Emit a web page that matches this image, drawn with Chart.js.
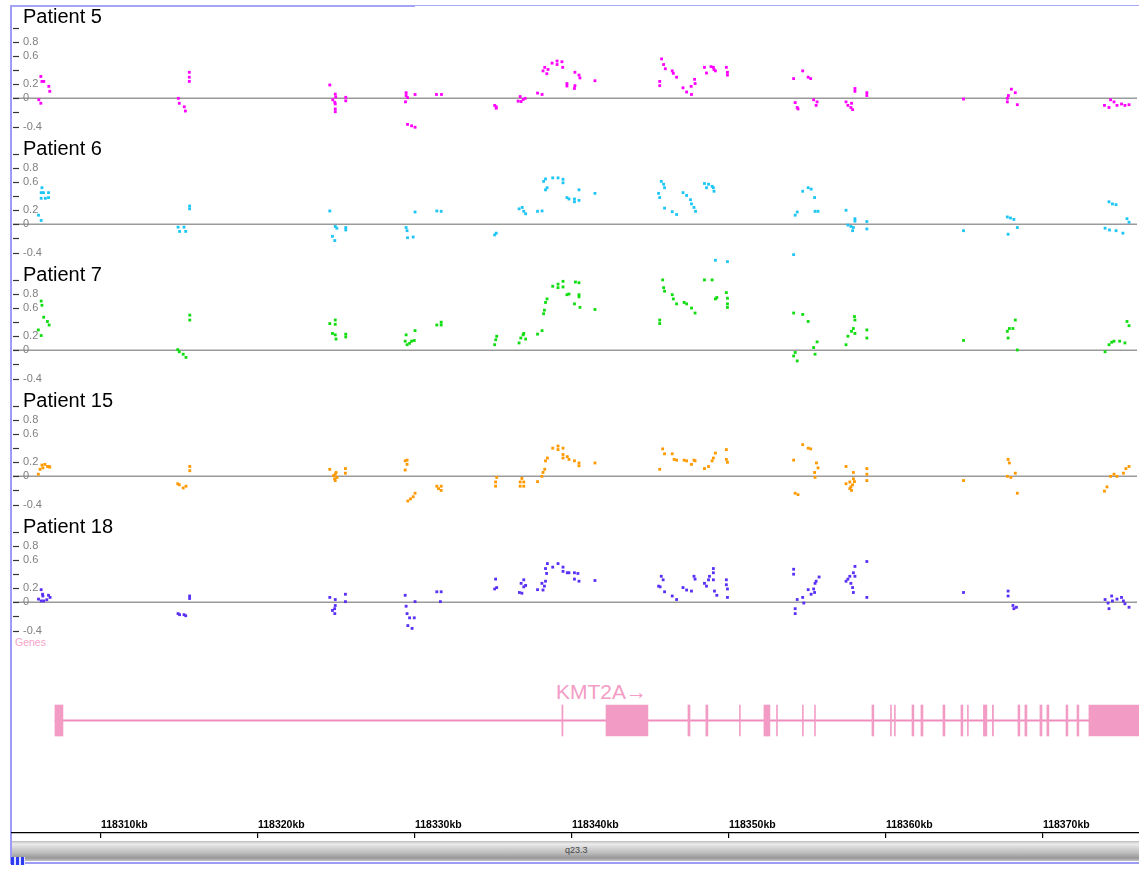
<!DOCTYPE html>
<html>
<head>
<meta charset="utf-8">
<script src="https://cdn.jsdelivr.net/npm/chart.js@4.4.1/dist/chart.umd.min.js"></script>
<style>
html, body { margin: 0; padding: 0; background: #fff; }
#stage { position: relative; width: 1139px; height: 869px; overflow: hidden; font-family: "Liberation Sans", Arial, sans-serif; }
#stage canvas { position: absolute; }
.frame { position: absolute; left: 10px; top: 5px; width: 1140px; height: 859px; border-left: 2px solid #9c9cf6; border-top: 1px solid #a8a8f8; border-bottom: 2px solid #9c9cf6; box-sizing: border-box; }
.frame-top { position: absolute; left: 10px; top: 5px; width: 405px; height: 2px; background: #a4a4f6; }
.genes-label { position: absolute; left: 15px; top: 636px; font-size: 10.5px; color: #f5a3c7; }
.gene-name { position: absolute; left: 556px; top: 681px; font-size: 21px; line-height: 1; color: #f39cc5; }
.band { position: absolute; left: 12px; top: 841px; width: 1127px; height: 20px;
  background: linear-gradient(#bdbdbd 0px, #ececec 3px, #d4d4d4 7px, #bcbcbc 12px, #979797 17px, #c4c4c4 20px); }
.band span { position: absolute; left: 553px; top: 4px; font-size: 9px; color: #444; }
.corner { position: absolute; left: 11px; top: 857px; width: 14px; height: 8px;
  background: repeating-linear-gradient(90deg, #2c3cf0 0 3px, #dfe2ff 3px 5px); }
</style>
</head>
<body>
<div id="stage">
  <div class="frame"></div>
  <div class="frame-top"></div>
  <div class="genes-label">Genes</div>
  <div class="gene-name">KMT2A→</div>
  <div class="band"><span>q23.3</span></div>
  <div class="corner"></div>
</div>
<script>
// visible window, kb on chr11
const X_MIN = 118304.27;
const X_MAX = 118376.12;

const xTickKb = [118310, 118320, 118330, 118340, 118350, 118360, 118370];
const yTickValues = [1.0, 0.8, 0.6, 0.4, 0.2, 0, -0.2, -0.4];
const yLabelValues = [0.8, 0.6, 0.2, 0, -0.4];

const patientNames = ['Patient 5', 'Patient 6', 'Patient 7', 'Patient 15', 'Patient 18'];

const p5Kb = [
  118305.92, 118306.05, 118306.05, 118306.12, 118306.24, 118306.56, 118306.62,
  118314.84, 118314.90, 118315.22, 118315.29, 118315.54, 118315.54, 118315.54,
  118324.52, 118324.87, 118324.90, 118324.71, 118324.84, 118324.87, 118324.87, 118324.87, 118325.54, 118325.54,
  118329.40, 118329.40, 118329.36, 118329.49, 118329.97, 118329.49, 118329.75, 118329.97,
  118331.34, 118331.66,
  118335.06, 118335.16, 118335.16,
  118336.56, 118336.69, 118336.75, 118336.88, 118337.01,
  118337.80, 118338.09, 118338.15, 118338.26, 118338.39, 118338.47, 118338.73, 118339.05, 118339.05, 118339.36,
  118339.41, 118339.68, 118339.68, 118340.19, 118340.19, 118340.16, 118340.45, 118340.51, 118341.47,
  118345.61, 118345.61, 118345.73, 118345.86, 118345.97, 118346.41, 118346.48, 118346.69, 118347.10, 118347.33,
  118347.62, 118347.64, 118347.84, 118347.87, 118348.47, 118348.60, 118348.89, 118349.04, 118349.08, 118349.17,
  118349.87, 118349.94, 118349.94,
  118354.17, 118354.27, 118354.40, 118354.45, 118354.75, 118355.10, 118355.26, 118355.45, 118355.67, 118355.61,
  118357.52, 118357.64, 118357.87, 118357.94, 118357.83, 118358.09, 118358.09, 118358.85, 118358.85,
  118365.03,
  118367.83, 118367.83, 118367.90, 118368.09, 118368.34, 118368.47,
  118374.04, 118374.33, 118374.43, 118374.65, 118374.84, 118375.13, 118375.35, 118375.61,
];
const p5Val = [
  -0.02, -0.07, 0.31, 0.24, 0.24, 0.17, 0.10,
  0.00, -0.07, -0.12, -0.18, 0.37, 0.30, 0.24,
  0.19, 0.06, 0.02, -0.02, -0.055, -0.08, -0.15, -0.19, 0.015, -0.035,
  0.08, 0.04, -0.05, 0.01, 0.055, -0.37, -0.39, -0.41,
  0.055, 0.055,
  -0.10, -0.14, -0.12,
  -0.04, 0.025, -0.045, -0.015, 0.00,
  0.075, 0.055, 0.39, 0.44, 0.35, 0.41, 0.50, 0.53, 0.48, 0.52,
  0.44, 0.21, 0.175, 0.37, 0.18, 0.14, 0.33, 0.29, 0.25,
  0.24, 0.18, 0.56, 0.48, 0.42, 0.39, 0.355, 0.30, 0.15, 0.09,
  0.17, 0.055, 0.27, 0.21, 0.44, 0.36, 0.45, 0.44, 0.41, 0.39,
  0.44, 0.37, 0.33,
  0.28, -0.06, -0.13, -0.15, 0.39, 0.30, 0.28, -0.02, -0.05, -0.10,
  -0.05, -0.10, -0.07, -0.16, -0.13, 0.14, 0.10, 0.08, 0.04,
  -0.01,
  0.00, -0.05, 0.04, 0.13, 0.08, -0.09,
  -0.10, -0.13, -0.02, -0.05, -0.10, -0.08, -0.10, -0.09,
];

const p6Kb = [
  118306.12, 118306.07, 118306.22, 118306.54, 118306.07, 118306.34, 118306.54, 118305.90, 118306.07,
  118314.82, 118314.92, 118315.20, 118315.31, 118315.56, 118315.56,
  118324.52, 118324.87, 118324.97, 118325.54, 118325.54, 118324.69, 118324.84,
  118329.40, 118329.46, 118329.49, 118329.85, 118329.97,
  118331.36, 118331.64,
  118335.06, 118335.16,
  118336.62, 118336.82, 118336.92, 118337.04,
  118337.80, 118338.09, 118338.19, 118338.31, 118338.31, 118338.41, 118338.77, 118339.11, 118339.43,
  118339.43, 118339.68, 118339.81, 118340.16, 118340.16, 118340.45, 118340.45, 118341.47,
  118345.71, 118345.86, 118345.92, 118345.54, 118345.61, 118345.92, 118346.41, 118346.69, 118347.10, 118347.33,
  118347.58, 118347.64, 118347.80, 118347.90, 118348.47, 118348.73, 118348.96, 118348.60, 118349.08, 118349.04,
  118349.17, 118349.94,
  118354.17, 118354.27, 118354.40, 118354.75, 118355.10, 118355.29, 118355.51, 118355.54, 118355.73,
  118357.52, 118357.64, 118357.83, 118357.94, 118357.99, 118358.09, 118358.09, 118358.85, 118358.85,
  118365.03,
  118367.83, 118368.03, 118368.25, 118367.88, 118368.47,
  118374.33, 118374.55, 118374.78, 118374.08, 118374.36, 118374.78, 118375.22, 118375.48, 118375.61,
];
const p6Val = [
  0.52, 0.45, 0.45, 0.45, 0.37, 0.37, 0.38, 0.13, 0.055,
  -0.04, -0.10, -0.04, -0.10, 0.26, 0.22,
  0.19, -0.03, -0.055, -0.045, -0.08, -0.17, -0.23,
  -0.045, -0.09, -0.19, -0.18, 0.175,
  0.19, 0.185,
  -0.15, -0.125,
  0.22, 0.24, 0.185, 0.15,
  0.185, 0.19, 0.61, 0.645, 0.49, 0.52, 0.66, 0.66, 0.64,
  0.59, 0.38, 0.36, 0.36, 0.32, 0.49, 0.34, 0.44,
  0.61, 0.57, 0.52, 0.44, 0.38, 0.23, 0.18, 0.14, 0.45, 0.41,
  0.35, 0.29, 0.24, 0.185, 0.58, 0.57, 0.54, 0.52, 0.47, 0.52,
  -0.51, -0.53,
  -0.43, 0.13, 0.175, 0.47, 0.52, 0.50, 0.38, 0.185, 0.185,
  0.20, -0.01, -0.03, -0.09, -0.045, 0.08, 0.045, 0.04, -0.065,
  -0.09,
  0.105, 0.09, 0.07, -0.14, -0.045,
  0.32, 0.29, 0.28, -0.055, -0.08, -0.09, -0.125, 0.08, 0.03,
];

const p7Kb = [
  118306.07, 118306.12, 118305.89, 118306.07, 118306.23, 118306.47, 118306.58,
  118314.80, 118314.90, 118315.15, 118315.33, 118315.57, 118315.57,
  118324.52, 118324.87, 118324.87, 118324.69, 118324.87, 118324.92, 118325.54, 118325.54,
  118329.40, 118329.34, 118329.46, 118329.62, 118329.75, 118329.92, 118329.97,
  118331.36, 118331.64, 118331.64,
  118335.06, 118335.13, 118335.19,
  118336.62, 118336.73, 118336.88, 118337.04, 118336.92,
  118337.80, 118338.09, 118338.19, 118338.24, 118338.31, 118338.41, 118338.77, 118339.11, 118339.11, 118339.43,
  118339.43, 118339.68, 118339.81, 118340.22, 118340.45, 118340.45, 118340.45, 118340.16, 118340.51, 118341.47,
  118345.80, 118345.86, 118345.92, 118345.61, 118345.61, 118346.41, 118346.48, 118346.69, 118347.17, 118347.33,
  118347.64, 118347.87, 118348.47, 118348.96, 118349.17, 118349.26, 118349.87, 118349.94, 118349.94, 118349.94,
  118354.17, 118354.75, 118355.10, 118354.27, 118354.40, 118354.17, 118355.45, 118355.54, 118355.67,
  118357.52, 118357.64, 118357.87, 118357.99, 118358.06, 118358.09, 118358.09, 118358.85, 118358.85,
  118365.03,
  118367.83, 118367.96, 118368.19, 118368.34, 118367.88, 118368.47,
  118374.08, 118374.33, 118374.50, 118374.65, 118375.01, 118375.35, 118375.48, 118375.61,
];
const p7Val = [
  0.70, 0.64, 0.29, 0.21, 0.47, 0.41, 0.36,
  0.01, -0.02, -0.055, -0.10, 0.50, 0.43,
  0.38, 0.43, 0.37, 0.24, 0.22, 0.16, 0.23, 0.19,
  0.22, 0.13, 0.08, 0.10, 0.13, 0.14, 0.28,
  0.36, 0.40, 0.36,
  0.08, 0.15, 0.20,
  0.105, 0.175, 0.22, 0.16, 0.24,
  0.23, 0.28, 0.52, 0.57, 0.68, 0.73, 0.91, 0.94, 0.89, 0.98,
  0.90, 0.79, 0.80, 0.97, 0.96, 0.79, 0.76, 0.66, 0.61, 0.58,
  1.00, 0.89, 0.84, 0.43, 0.38, 0.79, 0.73, 0.66, 0.68, 0.66,
  0.60, 0.53, 1.00, 1.00, 0.73, 0.75, 0.82, 0.74, 0.66, 0.61,
  0.53, 0.51, 0.41, -0.03, -0.15, -0.08, 0.04, -0.055, 0.12,
  0.08, 0.20, 0.27, 0.31, 0.48, 0.43, 0.24, 0.29, 0.175,
  0.14,
  0.27, 0.31, 0.31, 0.43, 0.175, 0.005,
  -0.02, 0.08, 0.115, 0.13, 0.13, 0.105, 0.41, 0.35,
];

const p15Kb = [
  118305.89, 118306.00, 118306.12, 118306.18, 118306.31, 118306.47, 118306.58, 118306.62,
  118314.80, 118314.90, 118315.15, 118315.33, 118315.57, 118315.57,
  118324.52, 118324.76, 118324.83, 118324.87, 118324.92, 118324.99, 118324.87, 118325.52, 118325.52,
  118329.34, 118329.46, 118329.46, 118329.34, 118329.51, 118329.68, 118329.85, 118329.97,
  118331.36, 118331.47, 118331.64, 118331.64,
  118335.19, 118335.12, 118335.12,
  118336.69, 118336.80, 118336.92, 118336.92, 118336.69,
  118337.80, 118338.08, 118338.15, 118338.26, 118338.31, 118338.43, 118338.77, 118339.11, 118339.11,
  118339.43, 118339.43, 118339.43, 118339.70, 118339.81, 118340.16, 118340.45, 118340.45, 118341.47,
  118345.80, 118345.92, 118345.61, 118346.41, 118346.53, 118346.69, 118347.17, 118347.33, 118347.64, 118347.80,
  118347.87, 118348.47, 118348.73, 118348.96, 118349.04, 118349.17, 118349.87, 118349.87, 118349.94,
  118354.17, 118354.27, 118354.45, 118354.75, 118355.10, 118355.26, 118355.63, 118355.73, 118355.51, 118355.54,
  118357.52, 118357.52, 118357.76, 118357.83, 118357.99, 118357.99, 118357.94, 118357.76, 118357.87, 118358.06,
  118358.85, 118358.85, 118358.85,
  118365.03,
  118367.88, 118367.96, 118367.83, 118368.06, 118368.34, 118368.47,
  118374.04, 118374.20, 118374.43, 118374.65, 118374.84, 118375.25, 118375.41, 118375.61,
];
const p15Val = [
  0.03, 0.10, 0.16, 0.12, 0.17, 0.14, 0.14, 0.13,
  -0.105, -0.12, -0.165, -0.14, 0.14, 0.08,
  0.10, 0.01, -0.035, 0.03, 0.055, -0.015, -0.06, 0.11, 0.045,
  0.22, 0.23, 0.17, 0.09, -0.35, -0.32, -0.29, -0.24,
  -0.14, -0.175, -0.14, -0.20,
  -0.015, -0.08, -0.14,
  -0.08, -0.03, -0.08, -0.14, -0.14,
  -0.075, 0.00, 0.055, 0.10, 0.22, 0.26, 0.40, 0.43, 0.38,
  0.40, 0.31, 0.26, 0.28, 0.24, 0.22, 0.19, 0.15, 0.19,
  0.39, 0.32, 0.10, 0.32, 0.24, 0.23, 0.23, 0.22, 0.17, 0.23,
  0.22, 0.11, 0.14, 0.22, 0.26, 0.33, 0.38, 0.24, 0.20,
  0.23, -0.24, -0.26, 0.45, 0.40, 0.39, 0.19, 0.12, 0.055, -0.015,
  0.14, -0.105, -0.08, -0.15, 0.055, -0.035, -0.12, -0.175, -0.20, -0.075,
  0.11, 0.03, -0.06,
  -0.06,
  0.24, 0.19, 0.00, -0.015, 0.045, -0.24,
  -0.21, -0.15, 0.00, 0.03, 0.00, 0.045, 0.11, 0.14,
];

const p18Kb = [
  118306.07, 118306.16, 118306.18, 118305.90, 118306.07, 118306.23, 118306.54, 118306.64, 118306.43,
  118314.82, 118314.92, 118315.20, 118315.31, 118315.56, 118315.56,
  118324.52, 118324.87, 118324.87, 118324.83, 118324.69, 118324.84, 118325.52, 118325.52,
  118329.34, 118329.40, 118329.46, 118329.62, 118329.92, 118329.51, 118329.78, 118329.97,
  118331.36, 118331.64, 118331.59,
  118335.06, 118335.12, 118335.19,
  118336.64, 118336.80, 118336.75, 118336.92, 118336.92, 118337.04,
  118337.80, 118338.08, 118338.15, 118338.24, 118338.31, 118338.38, 118338.31, 118338.43, 118338.77, 118339.11,
  118339.43, 118339.43, 118339.70, 118339.81, 118340.16, 118340.38, 118340.16, 118340.45, 118341.47,
  118345.71, 118345.83, 118345.54, 118345.64, 118345.92, 118346.41, 118346.69, 118347.10, 118347.33, 118347.64,
  118347.80, 118347.87, 118348.47, 118348.60, 118348.73, 118348.79, 118349.04, 118349.04, 118349.04, 118349.11,
  118349.26, 118349.87, 118349.87, 118349.94, 118349.94,
  118354.17, 118354.17, 118354.27, 118354.27, 118354.40, 118354.75, 118354.82, 118355.10, 118355.29, 118355.45,
  118355.54, 118355.61, 118355.80, 118355.51,
  118357.52, 118357.64, 118357.76, 118357.83, 118357.94, 118357.99, 118357.99, 118358.09, 118358.09, 118358.85,
  118358.85,
  118365.03,
  118367.88, 118367.88, 118368.19, 118368.25, 118368.41,
  118374.08, 118374.27, 118374.33, 118374.50, 118374.55, 118374.84, 118375.13, 118375.25, 118375.35, 118375.61,
];
const p18Val = [
  0.18, 0.115, 0.09, 0.046, 0.02, 0.02, 0.10, 0.07, 0.037,
  -0.16, -0.175, -0.175, -0.19, 0.09, 0.055,
  0.07, 0.04, -0.045, -0.09, -0.115, -0.16, 0.115, 0.01,
  0.10, -0.055, -0.16, -0.22, -0.22, -0.33, -0.37, 0.01,
  0.15, 0.15, 0.01,
  0.19, 0.33, 0.21,
  0.14, 0.13, 0.27, 0.32, 0.22, 0.24,
  0.18, 0.27, 0.175, 0.23, 0.30, 0.41, 0.48, 0.55, 0.50, 0.55,
  0.50, 0.44, 0.42, 0.42, 0.42, 0.41, 0.33, 0.30, 0.31,
  0.37, 0.32, 0.23, 0.22, 0.15, 0.09, 0.04, 0.21, 0.175, 0.16,
  0.37, 0.33, 0.27, 0.23, 0.32, 0.37, 0.48, 0.42, 0.32, 0.16,
  0.10, 0.32, 0.25, 0.19, 0.07,
  0.47, 0.40, -0.16, -0.09, 0.04, 0.07, -0.01, 0.18, 0.115, 0.19,
  0.27, 0.30, 0.36, 0.14,
  0.30, 0.33, 0.37, 0.27, 0.21, 0.14, 0.42, 0.51, 0.37, 0.58,
  0.07,
  0.14,
  0.16, 0.09, -0.045, -0.09, -0.07,
  0.04, -0.01, -0.09, 0.09, 0.02, 0.046, 0.07, 0.02, -0.02, -0.07,
];

// KMT2A exons (kb), transcript runs off the right edge
const geneSpanKb = [118307.07, 118376.50];
const exonStartKb = [
  118307.07, 118339.36, 118342.17, 118347.39, 118348.53, 118350.67, 118352.23, 118353.03, 118354.68,
  118355.45, 118359.11, 118360.29, 118360.54, 118361.66, 118362.23, 118363.63, 118364.78, 118365.19,
  118366.21, 118366.78, 118368.41, 118368.85, 118369.81, 118370.25, 118371.47, 118372.17, 118372.93,
];
const exonEndKb = [
  118307.58, 118339.43, 118344.84, 118347.52, 118348.66, 118350.73, 118352.61, 118353.09, 118354.74,
  118355.51, 118359.23, 118360.35, 118360.60, 118361.78, 118362.36, 118363.76, 118364.90, 118365.25,
  118366.43, 118366.85, 118368.53, 118368.98, 118369.94, 118370.38, 118371.59, 118372.29, 118376.50,
];

const FONT = '"Liberation Sans", Arial, sans-serif';
const GENE_PINK = '#f29bc4';

// Each data track is 126px apart; 72.5px per unit of log ratio.
const TRACK_TOP = 6;
const TRACK_STEP = 126;
const TRACK_H = 140;
const PX_PER_UNIT = 72.5;
const ZERO_OFFSET = 93;

Chart.defaults.font.family = FONT;

const stage = document.getElementById('stage');

function addCanvas(left, top, width, height) {
  const c = document.createElement('canvas');
  c.width = width;
  c.height = height;
  c.style.left = left + 'px';
  c.style.top = top + 'px';
  c.style.width = width + 'px';
  c.style.height = height + 'px';
  stage.appendChild(c);
  return c;
}

/**
 * Zero line, little y ticks and the track name. Drawn under the points,
 * IGV-style: labels sit inside the data area next to the left edge.
 */
const trackDecor = {
  id: 'trackDecor',
  beforeDatasetsDraw(chart, args, opts) {
    const { ctx, chartArea: a } = chart;
    const y = chart.scales.y;
    const y0 = y.getPixelForValue(0);
    ctx.save();

    ctx.strokeStyle = '#9a9a9a';
    ctx.lineWidth = 1.5;
    ctx.beginPath();
    ctx.moveTo(a.left, y0);
    ctx.lineTo(a.right, y0);
    ctx.stroke();

    ctx.strokeStyle = '#333';
    ctx.lineWidth = 1.2;
    yTickValues.forEach((v) => {
      const py = Math.round(y.getPixelForValue(v)) + 0.5;
      ctx.beginPath();
      ctx.moveTo(a.left, py);
      ctx.lineTo(a.left + 6, py);
      ctx.stroke();
    });

    ctx.fillStyle = '#808080';
    ctx.font = `11px ${FONT}`;
    ctx.textBaseline = 'middle';
    yLabelValues.forEach((v) => {
      const txt = v === 0 ? '0' : v.toFixed(1);
      ctx.fillText(txt, a.left + 10, y.getPixelForValue(v));
    });

    ctx.fillStyle = '#000';
    ctx.font = `20px ${FONT}`;
    ctx.textBaseline = 'alphabetic';
    ctx.fillText(opts.title, a.left + 10, y0 - 69 + (opts.titleDy || 0));
    ctx.restore();
  },
};

const tracks = [
  { kb: p5Kb, val: p5Val, color: '#ff00ff', titleDy: -6 },
  { kb: p6Kb, val: p6Val, color: '#1ec6f6', titleDy: 0 },
  { kb: p7Kb, val: p7Val, color: '#10dd10', titleDy: 0 },
  { kb: p15Kb, val: p15Val, color: '#ff9900', titleDy: 0 },
  { kb: p18Kb, val: p18Val, color: '#5a30f6', titleDy: 0 },
];

const yMax = ZERO_OFFSET / PX_PER_UNIT;
const yMin = yMax - TRACK_H / PX_PER_UNIT;

tracks.forEach((t, i) => {
  const canvas = addCanvas(11, TRACK_TOP + TRACK_STEP * i, 1128, TRACK_H);
  new Chart(canvas, {
    type: 'scatter',
    data: {
      datasets: [{
        data: t.kb.map((x, j) => ({ x, y: t.val[j] })),
        backgroundColor: t.color,
        pointStyle: 'rect',
        pointRadius: 2,
        pointBorderWidth: 0,
        pointHoverRadius: 2,
      }],
    },
    options: {
      responsive: false,
      animation: false,
      devicePixelRatio: 1,
      events: [],
      layout: { padding: 0 },
      plugins: {
        legend: { display: false },
        tooltip: { enabled: false },
        trackDecor: { title: patientNames[i], titleDy: t.titleDy },
      },
      scales: {
        x: { type: 'linear', min: X_MIN, max: X_MAX, display: false },
        y: { type: 'linear', min: yMin, max: yMax, display: false },
      },
    },
    plugins: [trackDecor],
  });
});

// gene track: intron line + exon blocks as floating horizontal bars
const geneCanvas = addCanvas(11, 700, 1128, 41);
new Chart(geneCanvas, {
  type: 'bar',
  data: {
    labels: ['KMT2A'],
    datasets: [
      {
        data: exonStartKb.map((s, i) => ({ y: 'KMT2A', x: [s, exonEndKb[i]] })),
        backgroundColor: GENE_PINK,
        barThickness: 31,
        grouped: false,
        borderWidth: 0,
        order: 1,
      },
      {
        data: [{ y: 'KMT2A', x: geneSpanKb }],
        backgroundColor: '#f08cbe',
        barThickness: 1.3,
        grouped: false,
        borderWidth: 0,
        order: 2,
      },
    ],
  },
  options: {
    indexAxis: 'y',
    responsive: false,
    animation: false,
    devicePixelRatio: 1,
    events: [],
    layout: { padding: 0 },
    plugins: { legend: { display: false }, tooltip: { enabled: false } },
    scales: {
      x: { type: 'linear', min: X_MIN, max: X_MAX, display: false },
      y: { type: 'category', display: false },
    },
  },
});

// ruler: labels above the line, tick marks hanging just below it
const AXIS_TOP = 800;
const AXIS_LINE_Y = 833;
const axisCanvas = addCanvas(11, AXIS_TOP, 1128, 38);
new Chart(axisCanvas, {
  type: 'scatter',
  data: { datasets: [{ data: [] }] },
  options: {
    responsive: false,
    animation: false,
    devicePixelRatio: 1,
    events: [],
    layout: { padding: 0 },
    plugins: { legend: { display: false }, tooltip: { enabled: false } },
    scales: {
      x: {
        type: 'linear',
        position: 'top',
        min: X_MIN,
        max: X_MAX,
        afterBuildTicks: (scale) => { scale.ticks = xTickKb.map((v) => ({ value: v })); },
        afterFit: (scale) => { scale.height = AXIS_LINE_Y - AXIS_TOP; },
        ticks: {
          autoSkip: false,
          maxRotation: 0,
          align: 'start',
          padding: 2,
          color: '#000',
          font: { size: 10.5, weight: 'bold' },
          callback: (v) => `${Math.round(v)}kb`,
        },
        grid: { drawTicks: false, color: '#000', lineWidth: 1.2, drawOnChartArea: true },
        border: { display: true, color: '#000', width: 1.2 },
      },
      y: { display: false, min: 0, max: 1 },
    },
  },
});
</script>
</body>
</html>
